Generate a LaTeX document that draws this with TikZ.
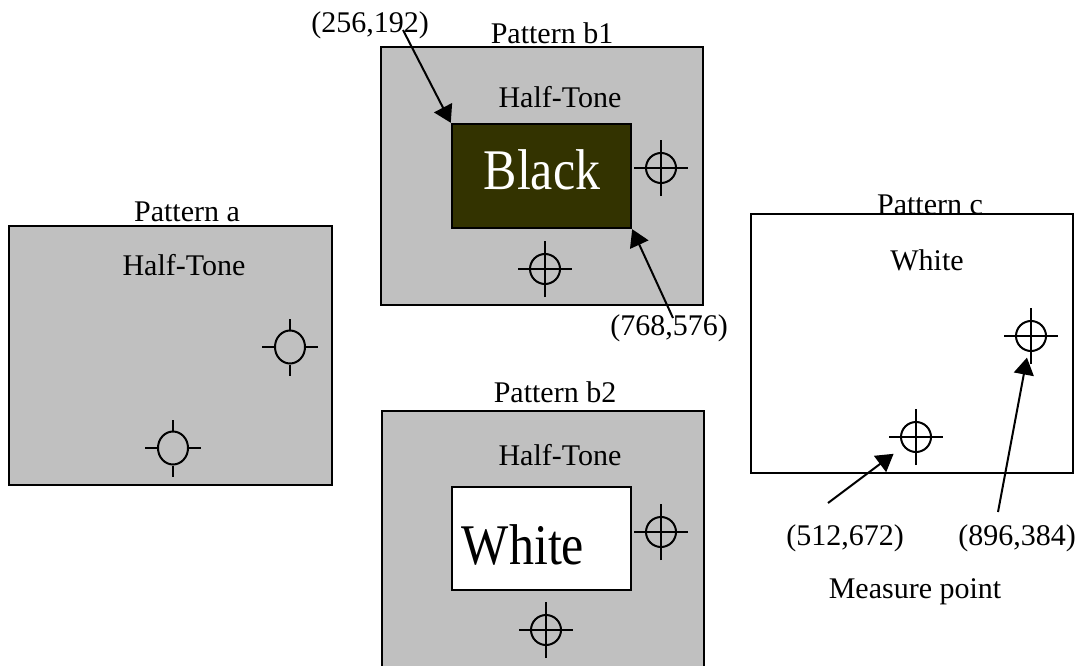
\documentclass[tikz,border=0pt]{standalone}
\usepackage{fontspec}
\setmainfont{Liberation Serif}
\usepackage{tikz}
\usetikzlibrary{arrows.meta,shapes.geometric}
\definecolor{halftone}{HTML}{C0C0C0}
\definecolor{blackfill}{HTML}{333300}

\begin{document}
\begin{tikzpicture}
		[x=1pt,y=-1pt,
		box/.style= {draw=black,line width=2.4pt,fill=halftone,inner sep=0pt},
		lbl/.style= {font=\fontsize{30}{34}\selectfont,inner sep=0pt},
		big/.style= {font=\fontsize{50}{56}\selectfont,inner sep=0pt},
		mp/.style= {circle,draw=black,line width=2pt,minimum size=30pt,inner sep=0pt},
		mpa/.style= {ellipse,draw=black,line width=2pt,minimum width=30pt,minimum height=33pt,inner sep=0pt},
		arr/.style= {line width=2pt,-{Triangle[length=17pt,width=20pt]}}]

		\useasboundingbox (0,0) rectangle (1082,666);

		% pattern a
		\node[box,minimum width=323pt,minimum height=259pt] (pa) at (170.5,355.5) {};
		\node[lbl] (la) at (187,212) {Pattern a};
		\node[lbl] (hta) at (184,265) {Half-Tone};
		\node[mpa] (ma1) at (290,347) {};
		\node[mpa] (ma2) at (173,448) {};
		\foreach \m in {ma1,ma2}
			\draw[line width=2pt] (\m.east) -- ++(12,0) (\m.west) -- ++(-12,0)
				(\m.north) -- ++(0,-11) (\m.south) -- ++(0,11);

		% pattern b1
		\node[box,minimum width=322pt,minimum height=258pt] (pb1) at (542,176) {};
		\node[lbl] (lb1) at (552,33) {Pattern b1};
		\node[lbl] (htb1) at (560,97) {Half-Tone};
		\node[draw=black,line width=2.4pt,fill=blackfill,minimum width=179pt,minimum height=104pt,inner sep=0pt] (blk) at (541.5,176) {};
		\node[big,text=white] (tblk) at (542,170) {\scalebox{1}[1.15]{Black}};
		\node[mp] (mb1) at (661,168) {};
		\node[mp] (mb2) at (545,269) {};
		\node[lbl] (p1) at (370,25) {(256,192)};
		\node[lbl] (p2) at (669,328) {(768,576)};
		\coordinate (s1) at (403,30);
		\coordinate (s2) at (673,318);
		\draw[arr] (s1) -- (blk.north west);
		\draw[arr] (s2) -- (blk.south east);

		% pattern b2
		\node[box,minimum width=322pt,minimum height=300pt,anchor=north west] (pb2) at (381,410) {};
		\node[lbl] (lb2) at (555,392) {Pattern b2};
		\node[lbl] (htb2) at (560,455) {Half-Tone};
		\node[draw=black,line width=2.4pt,fill=white,minimum width=179pt,minimum height=103pt,inner sep=0pt] (wht) at (541.5,538.5) {};
		\node[big] (twht) at (523,545) {\scalebox{1}[1.15]{White}};
		\node[mp] (mb3) at (661,532) {};
		\node[mp] (mb4) at (546,630) {};

		% pattern c
		\node[box,fill=white,minimum width=322pt,minimum height=259pt] (pc) at (912,343.5) {};
		\node[lbl] (lc) at (930,205) {Pattern c};
		\node[lbl] (whc) at (927,260) {White};
		\node[mp] (mc1) at (1031,336) {};
		\node[mp] (mc2) at (916,437) {};
		\node[lbl] (p3) at (845,538) {(512,672)};
		\node[lbl] (p4) at (1017,538) {(896,384)};
		\node[lbl] (mpt) at (915,592) {Measure point};
		\coordinate (s3) at (828,503);
		\coordinate (s4) at (998,512);
		\draw[arr,shorten >=12pt] (s3) -- (mc2);
		\draw[arr,shorten >=6pt] (s4) -- (mc1);

		% cross lines
		\foreach \m in {mb1,mb2,mb3,mb4,mc1,mc2}
			\draw[line width=2pt] ([xshift=-27pt]\m.center) -- ([xshift=27pt]\m.center)
				([yshift=-28pt]\m.center) -- ([yshift=28pt]\m.center);

	\end{tikzpicture}
\end{document}
